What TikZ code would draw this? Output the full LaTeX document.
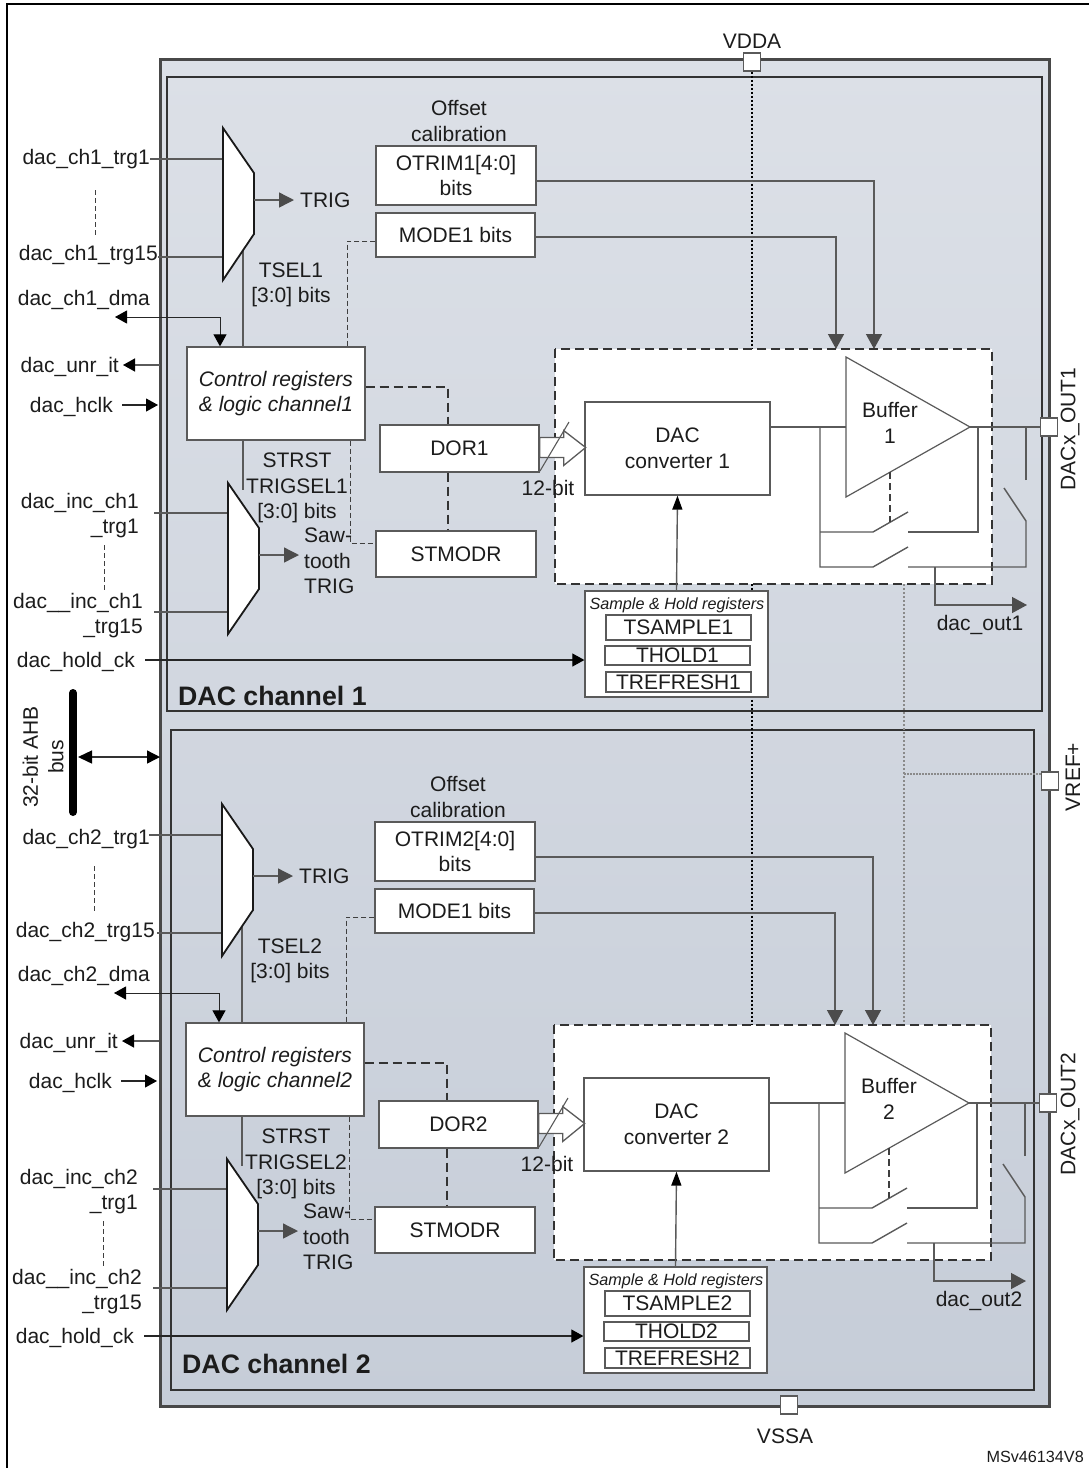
\documentclass[tikz,border=0pt]{standalone}
\usepackage{fontspec}
\setmainfont{Liberation Sans}
\usetikzlibrary{arrows.meta}
\definecolor{lncol}{HTML}{5A5A5A}
\definecolor{txtcol}{HTML}{1C1C1C}
\definecolor{dotgrey}{HTML}{8A8A8A}
\tikzset{
  lab/.style={font=\fontsize{21}{25.5}\selectfont,text=txtcol,inner sep=0pt,align=center},
  labr/.style={lab,anchor=east,align=right,yshift=-1.5pt},
  labl/.style={lab,anchor=west,align=left},
  bx/.style={draw=lncol,line width=1.3pt,fill=white,inner sep=0pt,font=\fontsize{21}{25.5}\selectfont,text=txtcol,align=center},
  wire/.style={draw=lncol,line width=1.4pt},
  thinwire/.style={draw=lncol,line width=1.1pt},
  blk/.style={draw=black!85,line width=1.1pt},
  tipg/.style={-{Triangle[length=15pt,width=15pt,color=lncol!85!black]}},
  tipgbig/.style={-{Triangle[length=15pt,width=16pt,color=lncol!85!black]}},
  tipk/.style={-{Triangle[length=12pt,width=13pt,color=black]}},
  tipkk/.style={{Triangle[length=14pt,width=13pt,color=black]}-{Triangle[length=13pt,width=13pt,color=black]}},
  dsh/.style={draw=lncol!70!black,line width=1pt,dash pattern=on 5pt off 3pt},
  dshb/.style={draw=black!80,line width=1.7pt,dash pattern=on 9pt off 5pt},
  mux/.style={draw=black!90,line width=1.8pt,fill=white,line join=miter},
  pin/.style={draw=lncol,line width=1.5pt,fill=white,inner sep=0pt,minimum width=17pt,minimum height=18pt},
}
% box given by its corners x1 y1 x2 y2
\newcommand{\boxn}[6]{%
  \node[bx,minimum width={(#4-#2)*1pt},minimum height={(#5-#3)*1pt}] (#1)
    at ({(#2+#4)/2},{(#3+#5)/2}) {#6};}
\newcommand{\dacchan}[1]{%
  % triggers
  \coordinate (ti#1a) at (150,159); \coordinate (ti#1b) at (158,257);
  \coordinate (mi#1a) at (223,159); \coordinate (mi#1b) at (223,257);
  \coordinate (so#1) at (243,250);
  \coordinate (ci#1a) at (154,513); \coordinate (ci#1b) at (154,612);
  \coordinate (mj#1a) at (228,513); \coordinate (mj#1b) at (228,612);
  \draw[wire] (ti#1a) -- (mi#1a);
  \draw[wire] (ti#1b) -- (mi#1b);
  \draw[wire] (ci#1a) -- (mj#1a);
  \draw[wire] (ci#1b) -- (mj#1b);
  \coordinate (d#1) at (243,490);
  \draw[wire] (so#1) -- (243,347);
  \draw[wire] (243,440) -- (d#1);
  \filldraw[mux] (223,128) -- (254,173) -- (254,234) -- (223,280) -- cycle;
  \filldraw[mux] (228,483) -- (259,528) -- (259,589) -- (228,634) -- cycle;
  \coordinate (mo#1) at (254,200); \coordinate (mp#1) at (259,555);
  \coordinate (mq#1) at (294,200); \coordinate (mr#1) at (299,555);
  \node[labl] (trig#1) at (300,200) {TRIG};
  \node[labl] (saw#1) at (304,561) {Saw-\\tooth\\TRIG};
  \draw[wire,tipg] (mo#1) -- (mq#1);
  \draw[wire,tipg] (mp#1) -- (mr#1);
  % registers
  \boxn{ctl#1}{187}{347}{365}{440}{\itshape Control registers\\\itshape \& logic channel#1}
  \boxn{ot#1}{376}{146}{536}{205}{OTRIM#1[4:0]\\bits}
  \boxn{mo#1b}{376}{213}{535}{257}{MODE1 bits}
  \boxn{dor#1}{380}{425}{539}{472}{DOR#1}
  \boxn{st#1}{376}{531}{536}{577}{STMODR}
  \node[lab] (off#1) at (459,121) {Offset\\calibration};
  \coordinate (otk#1) at (874,181); \coordinate (otb#1) at (874,349);
  \coordinate (mdk#1) at (836,237); \coordinate (mdb#1) at (836,349);
  \draw[wire,tipgbig] (ot#1.east |- otk#1) -- (otk#1) -- (otb#1);
  \draw[wire,tipgbig] (mo#1b.east |- mdk#1) -- (mdk#1) -- (mdb#1);
  % dashed box
  \node[draw=none,fill=white,inner sep=0pt,minimum width=437pt,minimum height=235pt] (dbox#1) at (773.5,466.5) {};
  \draw[dshb] (dbox#1.north west) rectangle (dbox#1.south east);
  % control wires
  \coordinate (a#1) at (347,241); \coordinate (b#1) at (448,387);
  \coordinate (c#1) at (350,543);
  \draw[dsh] (mo#1b.west |- a#1) -- (a#1) -- (a#1 |- ctl#1.north);
  \draw[dshb,line width=1.2pt] (ctl#1.east |- b#1) -- (b#1) -- (b#1 |- dor#1.north);
  \draw[dshb,line width=1.2pt] (b#1 |- dor#1.south) -- (b#1 |- st#1.north);
  \draw[dsh] (c#1 |- ctl#1.south) -- (c#1) -- (st#1.west |- c#1);
  % DAC and buffer
  \boxn{dac#1}{585}{402}{770}{495}{DAC\\converter #1}
  \filldraw[draw=lncol,line width=1.2pt,fill=white,line join=miter] (846,357) -- (970,427) -- (846,497) -- cycle;
  \coordinate (bi#1) at (846,427); \coordinate (bo#1) at (970,427);
  \node[lab] (buf#1) at (890,423) {Buffer\\#1};
  \node[pin] (out#1) at (1049,427) {};
  \coordinate (bj#1) at (820,427);
  \coordinate (s#1a) at (820,532); \coordinate (s#1b) at (873,532); \coordinate (s#1c) at (908,512);
  \coordinate (s#1d) at (908,532); \coordinate (s#1e) at (978,532); \coordinate (s#1f) at (978,427);
  \coordinate (t#1a) at (820,567); \coordinate (t#1b) at (873,567); \coordinate (t#1c) at (908,547);
  \coordinate (t#1d) at (908,567); \coordinate (t#1e) at (1026,567); \coordinate (t#1f) at (1026,521);
  \coordinate (t#1g) at (1004,488); \coordinate (t#1h) at (1026,480); \coordinate (t#1i) at (1026,427);
  \draw[wire] (dac#1.east |- bi#1) -- (bi#1);
  \draw[wire] (bo#1) -- (out#1.west);
  \draw[wire] (bj#1) -- (t#1a) -- (t#1b) -- (t#1c);
  \draw[wire] (s#1a) -- (s#1b) -- (s#1c);
  \draw[wire] (s#1d) -- (s#1e) -- (s#1f);
  \draw[wire] (t#1d) -- (t#1e) -- (t#1f) -- (t#1g);
  \draw[wire] (t#1h) -- (t#1i);
  \coordinate (sd#1a) at (890,472); \coordinate (sd#1b) at (890,522);
  \draw[dsh,line width=1.2pt,dash pattern=on 7pt off 4pt] (sd#1a) -- (sd#1b);
  \coordinate (oa#1) at (935,567); \coordinate (ob#1) at (935,605); \coordinate (oc#1) at (1027,605);
  \draw[wire,tipgbig] (oa#1) -- (ob#1) -- (oc#1);
  \node[lab] (dout#1) at (980,624.5) {dac\_out#1};
  % 12-bit hollow bus arrow
  \filldraw[draw=lncol,line width=1.3pt,fill=white,line join=miter] (dor#1.east) ++(0,-11) -- ++(24,0) -- ++(0,-7) -- ++(22,17) -- ++(-22,18) -- ++(0,-8) -- ++(-24,0) -- cycle;
  \coordinate (sl#1a) at (540,471); \coordinate (sl#1b) at (569,422);
  \draw[thinwire] (sl#1a) -- (sl#1b);
  \node[lab] (bit#1) at (548,488) {12-bit};
  % sample and hold
  \boxn{sh#1}{585}{591}{768}{697}{}
  \node[lab,font=\fontsize{16.2}{19}\selectfont\itshape] (sht#1) at (677,605) {Sample \& Hold registers};
  \boxn{ts#1}{606}{615}{751}{640}{TSAMPLE#1}
  \boxn{th#1}{605}{646}{750}{665}{THOLD#1}
  \boxn{tr#1}{606}{672}{751}{692}{TREFRESH#1}
  \draw[wire,-{Triangle[length=14pt,width=10pt,color=black]}] (sh#1.north) -- (dac#1.south);
  \coordinate (hd#1) at (145,660);
  \draw[blk,tipk] (hd#1) -- (sh#1.west |- hd#1);
  % bus signals
  \coordinate (dm#1a) at (115,317); \coordinate (dm#1b) at (220,317);
  \draw[blk,line width=1pt,{Triangle[length=12pt,width=13pt,color=black]}-{Triangle[length=12pt,width=13pt,color=black]}] (dm#1a) -- (dm#1b) -- (dm#1b |- ctl#1.north);
  \coordinate (un#1a) at (160,365); \coordinate (un#1b) at (123,365);
  \draw[wire,tipk] (un#1a) -- (un#1b);
  \coordinate (hc#1a) at (122,405); \coordinate (hc#1b) at (158,405);
  \draw[blk,tipk] (hc#1a) -- (hc#1b);
  \node[labr] (lu#1) at (119,365) {dac\_unr\_it};
  \node[labr] (lh#1) at (113,405) {dac\_hclk};
  \node[labr] (lk#1) at (135,660) {dac\_hold\_ck};
  \coordinate (vd#1a) at (95,190); \coordinate (vd#1b) at (95,235);
  \coordinate (ve#1a) at (104,545); \coordinate (ve#1b) at (104,590);
  \draw[dsh] (vd#1a) -- (vd#1b);
  \draw[dsh] (ve#1a) -- (ve#1b);
  \node[lab] (ssel#1) at (291,285) {TSEL#1\\{[3:0]} bits};
  \node[lab] (str#1) at (297,488) {STRST\\TRIGSEL#1\\{[3:0]} bits};
  \node[labr] (li#1a) at (139,514) {dac\_inc\_ch#1\\\_trg1};
  \node[labr] (li#1b) at (143,614) {dac\_\_inc\_ch#1\\\_trg15};
}
\begin{document}
\begin{tikzpicture}[x=1pt,y=-1pt]
\useasboundingbox (0,0) rectangle (1089,1468);
\fill[white] (0,0) rectangle (1089,1468);
% page frame
\coordinate (fa) at (1089,4); \coordinate (fb) at (7,4); \coordinate (fc) at (7,1468);
\draw[black,line width=1.6pt] (fa) -- (fb) -- (fc);
% outer block
\node[inner sep=0pt,minimum width=889pt,minimum height=1346pt] (dac) at (605,733) {};
\shade[top color={rgb,255:red,220;green,224;blue,231},bottom color={rgb,255:red,198;green,205;blue,216}] (dac.north west) rectangle (dac.south east);
\draw[lncol!80!black,line width=3pt,line join=miter] (dac.north west) rectangle (dac.south east);
\node[draw=black!80,line width=1.3pt,inner sep=0pt,minimum width=875pt,minimum height=634pt] (ch1) at (604.5,394) {};
\node[draw=black!80,line width=1.3pt,inner sep=0pt,minimum width=863pt,minimum height=660pt] (ch2) at (602.5,1060) {};
% supply pins and rails
\node[pin] (vdda) at (752,62) {};
\node[pin] (vssa) at (789,1405) {};
\node[pin] (vref) at (1050,781) {};
\coordinate (vb) at (752,1024);
\draw[black,line width=1.8pt,dash pattern=on 2pt off 2pt] (vdda.south) -- (vb);
\coordinate (ra) at (904,584); \coordinate (rb) at (904,1027); \coordinate (rc) at (904,774);
\draw[dotgrey,line width=1.1pt,dash pattern=on 2pt off 2pt] (ra) -- (rb);
\draw[dotgrey,line width=2.2pt,dash pattern=on 2pt off 1pt] (rc) -- (vref.west |- rc);
\node[lab] (lvdda) at (752,41) {VDDA};
\node[lab] (lvssa) at (785,1436) {VSSA};
\node[lab,rotate=90] (lvref) at (1073,777) {VREF+};
\node[lab,rotate=90] (lo1) at (1070,429) {DACx\_OUT1};
\node[lab,rotate=90] (lo2) at (1070,1114) {DACx\_OUT2};
% AHB bus
\node[lab,rotate=90] (lbus) at (43,757) {32-bit AHB\\bus};
\coordinate (bsa) at (73,693); \coordinate (bsb) at (73,812);
\draw[black,line width=8pt,line cap=round] (bsa) -- (bsb);
\coordinate (bsc) at (78,757); \coordinate (bsd) at (160,757);
\draw[black!80,line width=1.4pt,tipkk] (bsc) -- (bsd);
% channel 1
\dacchan{1}
\node[labr] (l1a) at (150,158) {dac\_ch1\_trg1};
\node[labr] (l1b) at (158,254) {dac\_ch1\_trg15};
\node[labr] (l1c) at (150,298) {dac\_ch1\_dma};
% channel 2
\begin{scope}[shift={(-1,676)}]
\dacchan{2}
\node[labr] (l2a) at (151,162) {dac\_ch2\_trg1};
\node[labr] (l2b) at (156,255) {dac\_ch2\_trg15};
\node[labr] (l2c) at (151,298) {dac\_ch2\_dma};
\end{scope}
\node[lab,anchor=west,font=\fontsize{26.7}{30}\selectfont\bfseries] (t1) at (178,696) {DAC channel 1};
\node[lab,anchor=west,font=\fontsize{26.7}{30}\selectfont\bfseries] (t2) at (182,1364) {DAC channel 2};
\node[lab,anchor=east,font=\fontsize{16.2}{19}\selectfont] (ms) at (1084,1457) {MSv46134V8};
\end{tikzpicture}
\end{document}
